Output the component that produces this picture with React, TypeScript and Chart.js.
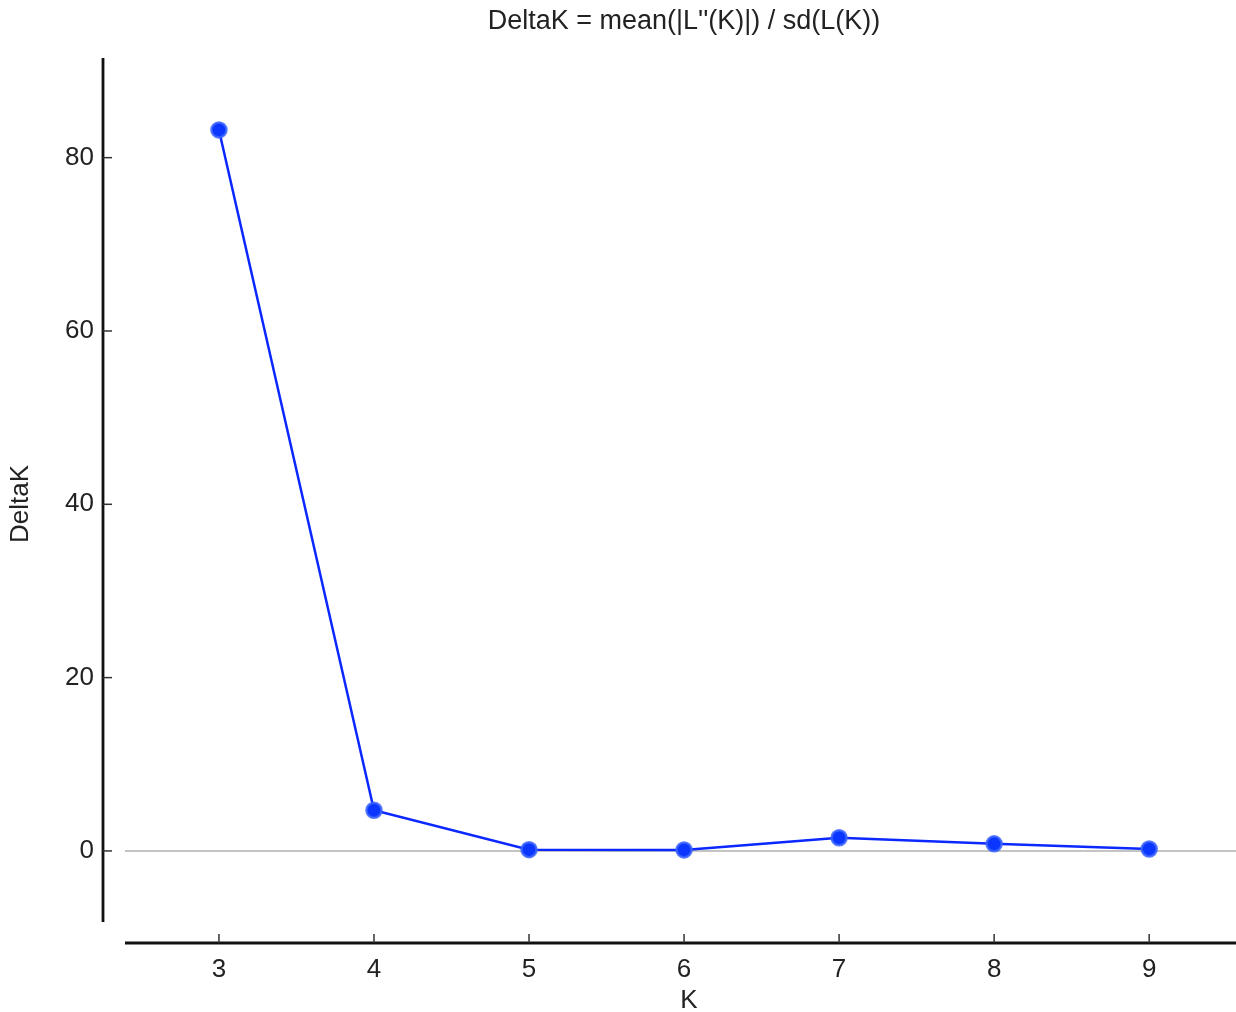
import React, { useEffect, useRef } from "react";
import { Chart, registerables } from "chart.js";

Chart.register(...registerables);

const kValues = [3, 4, 5, 6, 7, 8, 9];
const deltaK = [83.2, 4.7, 0.15, 0.12, 1.52, 0.82, 0.23];
const yTickValues = [0, 20, 40, 60, 80];
const xTickValues = [3, 4, 5, 6, 7, 8, 9];
const titleText = "DeltaK = mean(|L''(K)|) / sd(L(K))";
const xTitle = "K";
const yTitle = "DeltaK";

const FONT = "'Liberation Sans', Arial, Helvetica, sans-serif";

const AREA = { left: 125, top: 58, right: 1236, bottom: 922 };

const layoutFix = {
  id: "layoutFix",
  afterLayout(chart: any) {
    const ca = chart.chartArea;
    ca.left = AREA.left;
    ca.right = AREA.right;
    ca.top = AREA.top;
    ca.bottom = AREA.bottom;
    ca.width = ca.right - ca.left;
    ca.height = ca.bottom - ca.top;
    const xs = chart.scales.x;
    xs.left = AREA.left;
    xs.right = AREA.right;
    xs.width = AREA.right - AREA.left;
    xs.top = AREA.bottom;
    xs.bottom = chart.height;
    xs.height = xs.bottom - xs.top;
    xs.configure();
    const ys = chart.scales.y;
    ys.left = 0;
    ys.right = AREA.left;
    ys.width = AREA.left;
    ys.top = AREA.top;
    ys.bottom = AREA.bottom;
    ys.height = AREA.bottom - AREA.top;
    ys.configure();
  },
};

const spinesPlugin = {
  id: "spines",
  beforeDatasetsDraw(chart: any) {
    const { ctx, chartArea, scales } = chart;
    const y0 = scales.y.getPixelForValue(0);
    ctx.save();
    ctx.strokeStyle = "#b0b0b0";
    ctx.lineWidth = 1.5;
    ctx.beginPath();
    ctx.moveTo(chartArea.left, y0);
    ctx.lineTo(chartArea.right, y0);
    ctx.stroke();
    ctx.restore();
  },
  afterDraw(chart: any) {
    const { ctx, chartArea, scales } = chart;
    const xs = scales.x;
    const ys = scales.y;
    const yAxisX = chartArea.left - 22;
    const xAxisY = chartArea.bottom + 21;
    ctx.save();
    ctx.strokeStyle = "#111111";
    ctx.lineWidth = 2.8;
    ctx.beginPath();
    ctx.moveTo(yAxisX, chartArea.top);
    ctx.lineTo(yAxisX, chartArea.bottom);
    ctx.stroke();
    ctx.beginPath();
    ctx.moveTo(chartArea.left, xAxisY);
    ctx.lineTo(chartArea.right, xAxisY);
    ctx.stroke();
    ctx.strokeStyle = "#333333";
    ctx.lineWidth = 1.5;
    yTickValues.forEach((v) => {
      const p = ys.getPixelForValue(v);
      ctx.beginPath();
      ctx.moveTo(yAxisX, p);
      ctx.lineTo(yAxisX + 9, p);
      ctx.stroke();
    });
    xTickValues.forEach((v) => {
      const p = xs.getPixelForValue(v);
      ctx.beginPath();
      ctx.moveTo(p, xAxisY);
      ctx.lineTo(p, xAxisY - 9);
      ctx.stroke();
    });
    ctx.fillStyle = "#222222";
    ctx.textAlign = "center";
    ctx.textBaseline = "middle";
    ctx.font = `27px ${FONT}`;
    ctx.fillText(titleText, 684, 22);
    ctx.font = `26px ${FONT}`;
    ctx.fillText(xTitle, 689, 1001);
    ctx.translate(21, 504);
    ctx.rotate(-Math.PI / 2);
    ctx.fillText(yTitle, 0, 0);
    ctx.restore();
  },
};

export default function App() {
  const canvasRef = useRef<HTMLCanvasElement | null>(null);

  useEffect(() => {
    document.body.style.margin = "0";
    const canvas = canvasRef.current;
    if (!canvas) return;
    const chart = new Chart(canvas, {
      type: "line",
      data: {
        datasets: [
          {
            data: kValues.map((k, i) => ({ x: k, y: deltaK[i] })),
            borderColor: "#0a28ff",
            borderWidth: 2.5,
            backgroundColor: "#0a36ff",
            pointBackgroundColor: "#0a36ff",
            pointBorderColor: "rgba(60,100,255,0.85)",
            pointBorderWidth: 2.5,
            pointRadius: 7.5,
            tension: 0,
            fill: false,
          },
        ],
      },
      options: {
        responsive: false,
        animation: false,
        devicePixelRatio: 1,
        layout: { padding: { top: 58, left: 0, right: 0, bottom: 0 } },
        plugins: {
          legend: { display: false },
          title: { display: false },
          tooltip: { enabled: false },
        },
        scales: {
          x: {
            type: "linear",
            min: 2.394,
            max: 9.56,
            border: { display: false },
            grid: { display: false, drawTicks: false },
            afterBuildTicks: (s: any) => {
              s.ticks = xTickValues.map((v) => ({ value: v }));
            },
            afterFit: (s: any) => {
              s.height = 90;
              s.paddingLeft = 0;
              s.paddingRight = 0;
            },
            ticks: {
              padding: 32,
              color: "#222222",
              font: { family: FONT, size: 26 },
              callback: (v: any) => String(v),
            },
          },
          y: {
            type: "linear",
            min: -8.2,
            max: 91.5,
            border: { display: false },
            grid: { display: false, drawTicks: false },
            afterBuildTicks: (s: any) => {
              s.ticks = yTickValues.map((v) => ({ value: v }));
            },
            afterFit: (s: any) => {
              s.width = 125;
            },
            ticks: {
              padding: 31,
              color: "#222222",
              font: { family: FONT, size: 26 },
              callback: (v: any) => String(v),
            },
          },
        },
      },
      plugins: [layoutFix, spinesPlugin],
    });
    return () => chart.destroy();
  }, []);

  return (
    <div style={{ width: 1236, height: 1012, background: "#ffffff" }}>
      <canvas ref={canvasRef} width={1236} height={1012} style={{ display: "block" }} />
    </div>
  );
}
